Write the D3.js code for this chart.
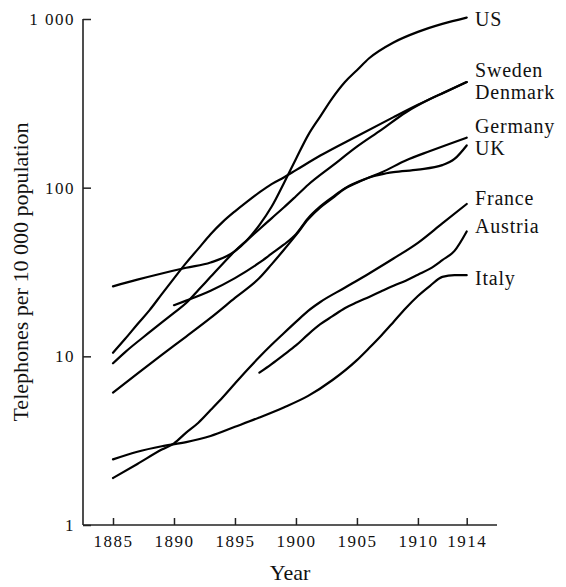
<!DOCTYPE html>
<html>
<head>
<meta charset="utf-8">
<script src="https://cdn.jsdelivr.net/npm/d3@7"></script>
<style>
  html, body { margin: 0; padding: 0; background: #fff; }
  svg { display: block; }
  text { font-family: "Liberation Serif", "Times New Roman", serif; fill: #111; }
</style>
</head>
<body>
<svg id="chart" width="566" height="587"></svg>
<script>
// Telephones per 10 000 population, by year (log scale)
const seriesNames = ["US", "Sweden", "Denmark", "Germany", "UK", "France", "Austria", "Italy"];

const US = [[1885,26],[1887,28.5],[1889,31],[1891,33.5],[1893,36],[1895,42],[1896,49],[1897,60],[1898,77],[1899,106],[1900,148],[1901,205],[1902,265],[1903,341],[1904,422],[1905,497],[1906,585],[1908,726],[1910,839],[1912,935],[1914,1020]];
const Sweden = [[1885,10.5],[1886,12.7],[1887,15.5],[1888,18.8],[1889,23.4],[1890,29],[1891,35.8],[1892,43.5],[1893,53],[1894,62.7],[1895,72.4],[1896,82.7],[1897,93.7],[1898,105],[1899,115],[1900,127],[1902,155],[1905,202],[1908,262],[1910,310],[1912,363],[1914,423]];
const Denmark = [[1885,9.1],[1886,10.6],[1888,13.9],[1890,18.1],[1891,20.7],[1892,24.7],[1893,29.6],[1894,35.4],[1895,42.1],[1896,48.9],[1897,56.7],[1898,65.8],[1899,76.3],[1900,89],[1901,104],[1903,135],[1905,175],[1907,220],[1909,279],[1911,335],[1912,362],[1914,423]];
const Germany = [[1885,6.1],[1887,7.9],[1889,10.2],[1891,13.1],[1893,16.9],[1895,22.2],[1897,29.1],[1898,35.1],[1899,42.7],[1900,52.3],[1901,64.9],[1902,76.3],[1903,86.7],[1904,98.5],[1905,107],[1906,115],[1907,123],[1909,145],[1911,165],[1914,198]];
const UK = [[1890,20.1],[1891,21.4],[1893,24.5],[1895,29.1],[1897,35.9],[1898,40.6],[1899,45.9],[1900,53],[1901,66],[1902,77.5],[1903,88],[1904,99],[1905,107.5],[1906,115],[1907,120],[1908,123.5],[1910,128],[1912,136],[1913,148],[1914,178]];
const France = [[1885,1.9],[1887,2.3],[1889,2.8],[1890,3.05],[1891,3.53],[1892,4.04],[1893,4.8],[1894,5.72],[1895,6.9],[1896,8.3],[1897,9.9],[1898,11.7],[1899,13.7],[1900,16],[1901,18.6],[1902,21],[1904,25.5],[1906,31],[1908,38],[1910,47.1],[1912,61.4],[1914,80]];
const Austria = [[1897,8],[1898,9],[1899,10.2],[1900,11.6],[1901,13.5],[1902,15.5],[1903,17.3],[1904,19.3],[1905,20.9],[1906,22.5],[1907,24.3],[1908,26.2],[1909,28.1],[1910,30.5],[1911,33.1],[1912,37.2],[1913,42.2],[1914,55]];
const Italy = [[1885,2.45],[1887,2.72],[1889,2.93],[1891,3.1],[1893,3.37],[1895,3.82],[1897,4.34],[1899,4.98],[1901,5.83],[1903,7.24],[1905,9.5],[1906,11.2],[1907,13.3],[1908,16],[1909,19.3],[1910,22.8],[1911,26.2],[1912,29.6],[1913,30.3],[1914,30.3]];

const seriesData = [US, Sweden, Denmark, Germany, UK, France, Austria, Italy];

const xTickValues = [1885, 1890, 1895, 1900, 1905, 1910, 1914];
const yTickValues = [1, 10, 100, 1000];
const yTickLabels = ["1", "10", "100", "1 000"];

// End labels: baseline offset of each label from its series' end point.
const labelShift = { US: 8, Sweden: -5.5, Denmark: 17, Germany: -4.5, UK: 10, France: 1, Austria: 2, Italy: 10 };

const svg = d3.select("#chart");

const x = d3.scaleLinear().domain([1885, 1914]).range([113, 466.7]);
const y = d3.scaleLog().domain([1, 1000]).range([525, 19]);

const axisColor = "#222";

function styleTickText(sel) {
  sel.attr("fill", "#111")
    .style("font-size", "17px")
    .style("letter-spacing", "1.5px")
    .style("font-family", "'Liberation Serif', serif");
}

// x axis: ticks point up into the plot
const gx = svg.append("g").attr("transform", "translate(0,525)")
  .call(d3.axisBottom(x).tickValues(xTickValues).tickFormat(d => String(d))
    .tickSizeInner(-7).tickSizeOuter(0).tickPadding(10));
gx.select(".domain").remove();
gx.selectAll(".tick line").attr("stroke", axisColor).attr("stroke-width", 1.5);
gx.selectAll(".tick text").call(styleTickText);
gx.append("line").attr("x1", 83).attr("x2", 497).attr("y1", 0).attr("y2", 0)
  .attr("stroke", axisColor).attr("stroke-width", 1.6);

// y axis: ticks point right into the plot
const gy = svg.append("g").attr("transform", "translate(83,0)")
  .call(d3.axisLeft(y).tickValues(yTickValues).tickFormat((d, i) => yTickLabels[i])
    .tickSizeInner(-8).tickSizeOuter(0).tickPadding(8));
gy.select(".domain").remove();
gy.selectAll(".tick line").attr("stroke", axisColor).attr("stroke-width", 1.5);
gy.selectAll(".tick text").call(styleTickText);
gy.append("line").attr("x1", 0).attr("x2", 0).attr("y1", 19).attr("y2", 525)
  .attr("stroke", axisColor).attr("stroke-width", 1.6);

// lines
const line = d3.line()
  .x(d => x(d[0]))
  .y(d => y(d[1]))
  .curve(d3.curveMonotoneX);

svg.append("g").selectAll("path")
  .data(seriesData)
  .join("path")
  .attr("d", line)
  .attr("fill", "none")
  .attr("stroke", "#000")
  .attr("stroke-width", 2.2)
  .attr("stroke-linecap", "round");

// end labels
svg.append("g").selectAll("text")
  .data(seriesNames)
  .join("text")
  .attr("x", 475)
  .attr("y", (name, i) => {
    const s = seriesData[i];
    return y(s[s.length - 1][1]) + labelShift[name];
  })
  .style("font-size", "20px")
  .style("letter-spacing", "0.8px")
  .text(d => d);

// axis titles
svg.append("text")
  .attr("x", 290).attr("y", 580)
  .attr("text-anchor", "middle")
  .style("font-size", "22px")
  .text("Year");

svg.append("text")
  .attr("transform", "translate(28,272) rotate(-90)")
  .attr("text-anchor", "middle")
  .style("font-size", "22px")
  .text("Telephones per 10 000 population");
</script>
</body>
</html>
